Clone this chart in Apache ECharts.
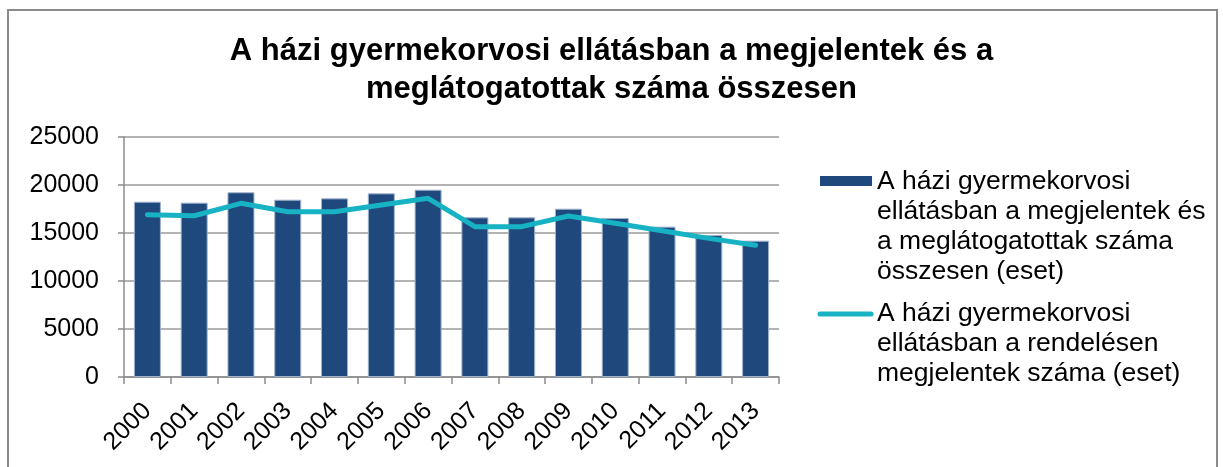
<!DOCTYPE html>
<html>
<head>
<meta charset="utf-8">
<script src="https://cdn.jsdelivr.net/npm/echarts@6/dist/echarts.min.js"></script>
<style>
html,body{margin:0;padding:0;background:#fff;}
#c{width:1223px;height:467px;}
</style>
</head>
<body>
<div id="c"></div>
<script>
const titleText = 'A házi gyermekorvosi ellátásban a megjelentek és a\nmeglátogatottak száma összesen';
const categories = ['2000','2001','2002','2003','2004','2005','2006','2007','2008','2009','2010','2011','2012','2013'];
const barName = 'A házi gyermekorvosi\nellátásban a megjelentek és\na meglátogatottak száma\nösszesen (eset)';
const lineName = 'A házi gyermekorvosi\nellátásban a rendelésen\nmegjelentek száma (eset)';
const barValues = [18260, 18160, 19240, 18470, 18610, 19130, 19510, 16630, 16630, 17530, 16560, 15660, 14790, 14200];
const lineValues = [16910, 16800, 18090, 17220, 17220, 17920, 18610, 15660, 15660, 16770, 16010, 15240, 14440, 13720];
const yTicks = {min: 0, max: 25000, interval: 5000};

const FONT = '"Liberation Sans", Arial, sans-serif';
const BAR_COLOR = '#1F497D';
const LINE_COLOR = '#17B2C3';
const chart = echarts.init(document.getElementById('c'));
chart.setOption({
  animation: false,
  backgroundColor: '#ffffff',
  title: {
    text: titleText,
    left: 'center',
    top: 27,
    textStyle: {fontFamily: FONT, fontSize: 31, fontWeight: 'bold', color: '#000', lineHeight: 38}
  },
  grid: {left: 124, right: 444, top: 137, bottom: 90, containLabel: false},
  xAxis: {
    type: 'category',
    data: categories,
    axisLine: {show: true, lineStyle: {color: '#8c8c8c', width: 1.5}},
    axisTick: {show: true, length: 7, lineStyle: {color: '#8c8c8c', width: 1.5}},
    axisLabel: {rotate: 45, fontFamily: FONT, fontSize: 25, color: '#000', margin: 30}
  },
  yAxis: {
    type: 'value',
    min: yTicks.min, max: yTicks.max, interval: yTicks.interval,
    axisLine: {show: true, lineStyle: {color: '#8c8c8c', width: 1.5}},
    axisTick: {show: true, length: 6, lineStyle: {color: '#8c8c8c', width: 1.5}},
    axisLabel: {fontFamily: FONT, fontSize: 25, color: '#000', margin: 25, formatter: function (v) { return String(v); }},
    splitLine: {show: true, lineStyle: {color: '#9a9a9a', width: 1.5}}
  },
  series: [
    {
      name: barName,
      type: 'bar',
      data: barValues,
      barWidth: 27,
      itemStyle: {color: BAR_COLOR, borderColor: '#9fb2cc', borderWidth: 1}
    },
    {
      name: lineName,
      type: 'line',
      data: lineValues,
      symbol: 'none',
      lineStyle: {color: LINE_COLOR, width: 5, cap: 'round', join: 'round'},
      itemStyle: {color: LINE_COLOR}
    }
  ],
  graphic: [
    {type: 'rect', shape: {x: 8, y: 10, width: 1209, height: 480}, style: {fill: 'none', stroke: '#8a8a8a', lineWidth: 2}, silent: true, z: -1},
    {type: 'rect', shape: {x: 820, y: 176, width: 52, height: 10}, style: {fill: BAR_COLOR}, silent: true},
    {type: 'text', x: 877, y: 167, style: {text: barName, fontFamily: FONT, fontSize: 26.5, lineHeight: 30, fill: '#000', verticalAlign: 'top', align: 'left'}, silent: true},
    {type: 'line', shape: {x1: 820, y1: 314, x2: 871, y2: 314}, style: {stroke: LINE_COLOR, lineWidth: 5, lineCap: 'round'}, silent: true},
    {type: 'text', x: 877, y: 299, style: {text: lineName, fontFamily: FONT, fontSize: 26.5, lineHeight: 30, fill: '#000', verticalAlign: 'top', align: 'left'}, silent: true}
  ]
});
</script>
</body>
</html>
